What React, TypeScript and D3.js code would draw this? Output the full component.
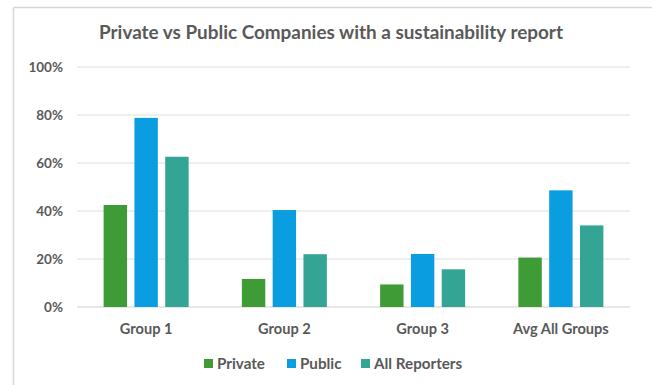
import React from "react";
import * as d3 from "d3";

const categories = ["Group 1", "Group 2", "Group 3", "Avg All Groups"];
const seriesNames = ["Private", "Public", "All Reporters"];
const privateValues = [42.5, 11.7, 9.4, 20.6];
const publicValues = [78.8, 40.4, 22.1, 48.6];
const allReportersValues = [62.6, 22, 15.7, 34];
const yTicks = [0, 20, 40, 60, 80, 100];
const colors = ["#3e9b36", "#0a9de0", "#34a595"];

const W = 652;
const H = 385;
const FONT = "Lato, 'Open Sans', sans-serif";

export default function App() {
  const series = [privateValues, publicValues, allReportersValues];
  const x0 = d3.scaleBand<string>().domain(categories).range([77, 630]).paddingInner(0).paddingOuter(0);
  const groupW = 85;
  const x1 = d3.scaleBand<string>().domain(seriesNames).range([0, groupW]).paddingInner(0.24).paddingOuter(0);
  const y = d3.scaleLinear().domain([0, 100]).range([307, 67]);

  const legendItems = [
    { name: "Private", x: 204 },
    { name: "Public", x: 287 },
    { name: "All Reporters", x: 361 },
  ];

  return (
    <svg width={W} height={H} style={{ position: "absolute", left: 0, top: 0, background: "#fff" }}>
      <rect x={0} y={0} width={W} height={H} fill="#fff" />
      <line x1={13.5} y1={7.5} x2={W} y2={7.5} stroke="#d6d6d6" strokeWidth={1.5} />
      <line x1={13.5} y1={7.5} x2={13.5} y2={H} stroke="#d6d6d6" strokeWidth={1.5} />
      <text x={331} y={39} textAnchor="middle" fontFamily={FONT} fontWeight={700} fontSize={18.9} fill="#595959">
        Private vs Public Companies with a sustainability report
      </text>
      {yTicks.map((t) => (
        <g key={t}>
          <line x1={77} x2={630} y1={y(t)} y2={y(t)} stroke={t === 0 ? "#cfcfcf" : "#dedede"} strokeWidth={1} />
          <text x={63} y={y(t)} dy="0.35em" textAnchor="end" fontFamily={FONT} fontWeight={700} fontSize={13.5} fill="#595959">
            {t}%
          </text>
        </g>
      ))}
      {categories.map((c, ci) => {
        const gx = (x0(c) as number) + (x0.bandwidth() - groupW) / 2;
        return (
          <g key={c}>
            {series.map((vals, si) => (
              <rect
                key={si}
                x={gx + (x1(seriesNames[si]) as number)}
                y={y(vals[ci])}
                width={x1.bandwidth()}
                height={y(0) - y(vals[ci])}
                fill={colors[si]}
              />
            ))}
            <text x={(x0(c) as number) + x0.bandwidth() / 2} y={329} dy="0.35em" textAnchor="middle" fontFamily={FONT} fontWeight={700} fontSize={14.6} fill="#595959">
              {c}
            </text>
          </g>
        );
      })}
      {legendItems.map((it, i) => (
        <g key={it.name}>
          <rect x={it.x} y={359} width={9} height={9} fill={colors[i]} />
          <text x={it.x + 13} y={364} dy="0.35em" fontFamily={FONT} fontWeight={700} fontSize={15.2} fill="#595959">
            {it.name}
          </text>
        </g>
      ))}
    </svg>
  );
}
